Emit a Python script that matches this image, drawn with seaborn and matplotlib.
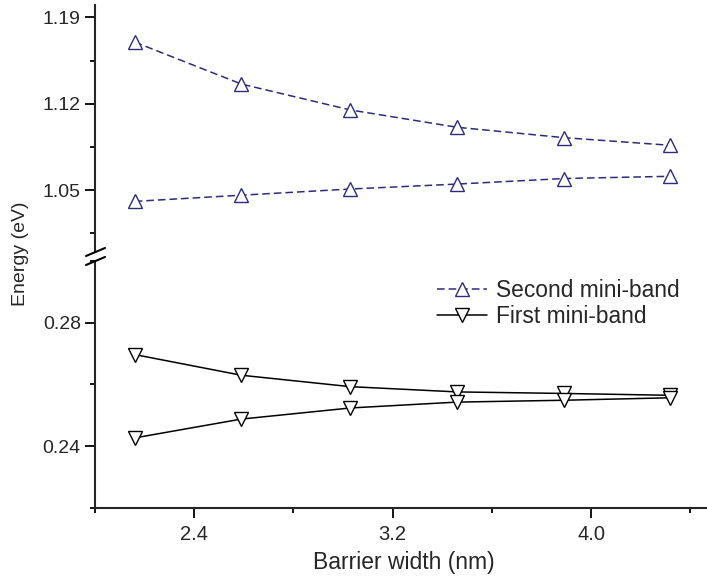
import matplotlib
matplotlib.use("Agg")
import matplotlib.pyplot as plt
from matplotlib.lines import Line2D
from matplotlib.ticker import MultipleLocator
import seaborn as sns
import pandas as pd

# ---- data ----
barrier_width = [2.16, 2.59, 3.03, 3.46, 3.89, 4.32]
second_upper = [1.170, 1.136, 1.115, 1.101, 1.0926, 1.0864]
second_lower = [1.041, 1.046, 1.051, 1.055, 1.0595, 1.0613]
first_upper = [0.2697, 0.2630, 0.2593, 0.2576, 0.2571, 0.2565]
first_lower = [0.2427, 0.2488, 0.2524, 0.2543, 0.2549, 0.2557]
series_names = ["Second mini-band", "First mini-band"]
x_ticks = [2.4, 3.2, 4.0]
y_ticks_upper = [1.05, 1.12, 1.19]
y_ticks_lower = [0.24, 0.28]

sns.set_theme(style="ticks")
plt.rcParams["font.family"] = ["Liberation Sans", "DejaVu Sans"]

W, H = 707, 576
fig = plt.figure(figsize=(W / 100, H / 100), dpi=100)

def fb(px_top, px_bottom):
    return 1 - px_bottom / H, (px_bottom - px_top) / H

left = 95 / W
width = 1 - left
b1, h1 = fb(5, 252)
b2, h2 = fb(261, 508)
ax_up = fig.add_axes([left, b1, width, h1])
ax_lo = fig.add_axes([left, b2, width, h2], sharex=ax_up)

navy = "#2f2b7b"
dash = (0, (5, 2.6))
df_up = pd.DataFrame({"x": barrier_width * 2,
                      "y": second_upper + second_lower,
                      "branch": ["u"] * 6 + ["l"] * 6})
df_lo = pd.DataFrame({"x": barrier_width * 2,
                      "y": first_upper + first_lower,
                      "branch": ["u"] * 6 + ["l"] * 6})

for br in ["u", "l"]:
    sns.lineplot(data=df_up[df_up.branch == br], x="x", y="y", ax=ax_up,
                 color=navy, linewidth=1.1, marker="^", markersize=9.5,
                 markerfacecolor="white", markeredgecolor=navy,
                 markeredgewidth=1.0, sort=False, legend=False)
    sns.lineplot(data=df_lo[df_lo.branch == br], x="x", y="y", ax=ax_lo,
                 color="black", linewidth=1.1, marker="v", markersize=9.5,
                 markerfacecolor="white", markeredgecolor="black",
                 markeredgewidth=1.0, sort=False, legend=False)
for ln in ax_up.get_lines():
    ln.set_linestyle(dash)

ax_up.set_xlim(2.0, 2.0 + (W - 95) / 248)
ax_up.set_ylim(1.0, 1.2)
ax_lo.set_ylim(0.22, 0.30)

for ax in (ax_up, ax_lo):
    ax.set_xlabel("")
    ax.set_ylabel("")
    ax.spines["top"].set_visible(False)
    ax.spines["right"].set_visible(False)
    ax.spines["left"].set_linewidth(1.5)
    ax.spines["bottom"].set_linewidth(1.5)
    ax.tick_params(axis="both", which="major", direction="out", length=7.2,
                   width=1.3, labelsize=14, color="black", pad=3)
    ax.tick_params(axis="both", which="minor", direction="out", length=3.6,
                   width=1.3, color="black")
    ax.patch.set_alpha(0)

ax_up.spines["bottom"].set_visible(False)
ax_up.tick_params(axis="x", which="both", bottom=False, labelbottom=False)
ax_up.set_yticks(y_ticks_upper)
ax_up.yaxis.set_minor_locator(MultipleLocator(0.035))
ax_lo.set_yticks(y_ticks_lower)
ax_lo.yaxis.set_minor_locator(MultipleLocator(0.02))
ax_lo.set_xticks(x_ticks)
ax_lo.xaxis.set_minor_locator(MultipleLocator(0.4))
ax_lo.set_xticklabels([f"{v:.1f}" for v in x_ticks])
ax_lo.tick_params(axis="x", which="major", labelsize=14.5, pad=5)
ax_up.set_yticklabels([f"{v:.2f}" for v in y_ticks_upper])
ax_lo.set_yticklabels([f"{v:.2f}" for v in y_ticks_lower])

# break marks
for y0 in (256, 265):
    fig.add_artist(Line2D([86 / W, 105 / W], [1 - y0 / H, 1 - (y0 - 8) / H],
                          transform=fig.transFigure, color="black", lw=1.5))

fig.text(21 / W, 1 - 254 / H, "Energy (eV)", rotation=90, ha="center",
         va="center", fontsize=14)
fig.text(404 / W, 1 - 562 / H, "Barrier width (nm)", ha="center",
         va="center", fontsize=16.5)

handles = [Line2D([], [], color=navy, lw=1.1, ls=dash, marker="^",
                  markersize=9.5, markerfacecolor="white", markeredgecolor=navy),
           Line2D([], [], color="black", lw=1.1, marker="v", markersize=9.5,
                  markerfacecolor="white", markeredgecolor="black")]
fig.legend(handles, series_names, loc="upper left",
           bbox_to_anchor=(437 / W, 1 - 279 / H),
           frameon=False, fontsize=16.4, handlelength=2.2, handletextpad=0.4,
           labelspacing=0.12, borderaxespad=0, borderpad=0)

fig.savefig("out.png", dpi=100)
